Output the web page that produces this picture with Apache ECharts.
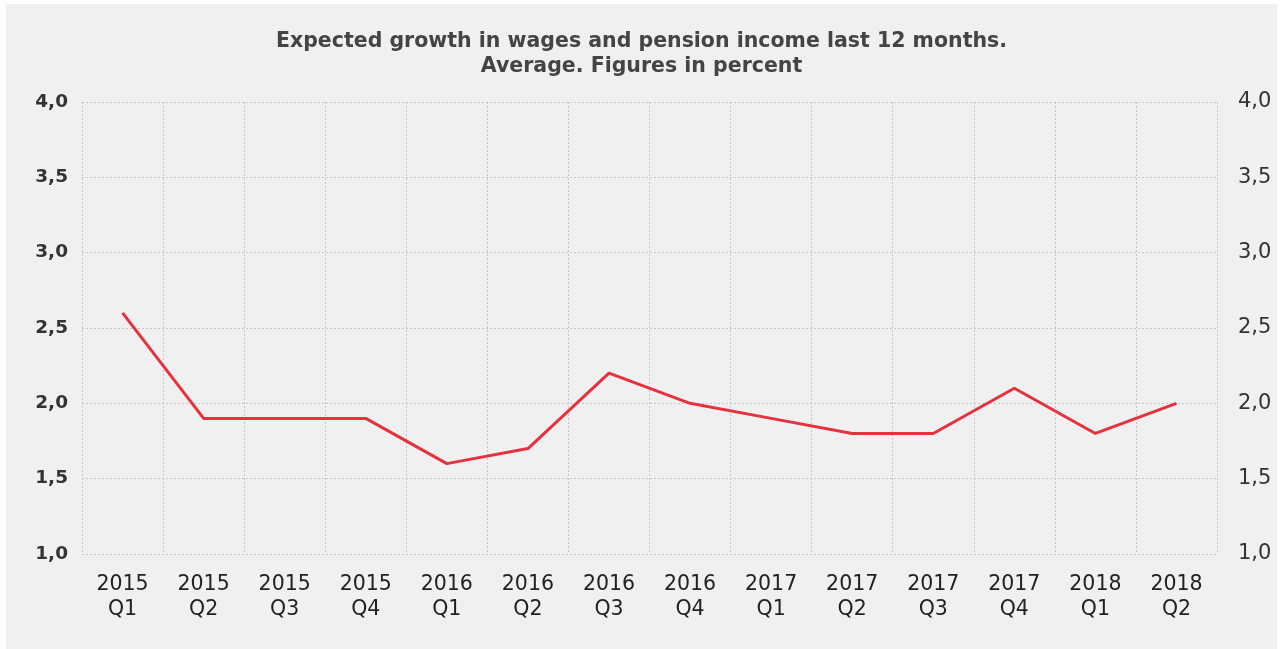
<!DOCTYPE html>
<html>
<head>
<meta charset="utf-8">
<script src="https://cdn.jsdelivr.net/npm/echarts@6/dist/echarts.min.js"></script>
<style>
    html, body { margin: 0; padding: 0; background: #fff; }
    #chart { position: absolute; left: 6px; top: 4px; width: 1271px; height: 645px; background: #f0f0f0; }
</style>
</head>
<body>
<div id="chart"></div>
<script>
// 数据
var quarters = ['2015\nQ1', '2015\nQ2', '2015\nQ3', '2015\nQ4', '2016\nQ1', '2016\nQ2', '2016\nQ3',
    '2016\nQ4', '2017\nQ1', '2017\nQ2', '2017\nQ3', '2017\nQ4', '2018\nQ1', '2018\nQ2'];
var growth = [2.6, 1.9, 1.9, 1.9, 1.6, 1.7, 2.2, 2.0, 1.9, 1.8, 1.8, 2.1, 1.8, 2.0];
var yMin = 1, yMax = 4, yStep = 0.5;

var chart = echarts.init(document.getElementById('chart'));

function fmt(v) {
    return v.toFixed(1).replace('.', ',');
}

var gridLine = {
    show: true,
    lineStyle: { color: '#c4c4c4', type: [2, 2], width: 1 }
};

var option = {
    backgroundColor: '#f0f0f0',
    animation: false,
    title: {
        text: 'Expected growth in wages and pension income last 12 months.\nAverage. Figures in percent',
        left: 'center',
        top: 20,
        textStyle: {
            fontFamily: 'DejaVu Sans',
            fontSize: 20.5,
            fontWeight: 'bold',
            color: '#444',
            lineHeight: 25
        }
    },
    grid: {
        left: 76,
        top: 98,
        width: 1135,
        height: 452
    },
    xAxis: {
        type: 'category',
        data: quarters,
        boundaryGap: true,
        axisLine: { show: false },
        axisTick: { show: false },
        axisLabel: {
            interval: 0,
            margin: 18,
            fontFamily: 'DejaVu Sans',
            fontSize: 20.5,
            color: '#222',
            lineHeight: 25
        },
        splitLine: gridLine
    },
    yAxis: [
        {
            type: 'value',
            min: yMin,
            max: yMax,
            interval: yStep,
            axisLine: { show: false },
            axisTick: { show: false },
            axisLabel: {
                margin: 14,
                fontFamily: 'DejaVu Sans',
                fontSize: 18.5,
                fontWeight: 'bold',
                color: '#333',
                formatter: fmt
            },
            splitLine: gridLine
        },
        {
            type: 'value',
            min: yMin,
            max: yMax,
            interval: yStep,
            position: 'right',
            axisLine: { show: false },
            axisTick: { show: false },
            axisLabel: {
                margin: 21,
                fontFamily: 'DejaVu Sans',
                fontSize: 21,
                color: '#333',
                formatter: fmt
            },
            splitLine: { show: false }
        }
    ],
    series: [
        {
            type: 'line',
            data: growth,
            yAxisIndex: 0,
            symbol: 'none',
            lineStyle: { color: '#e5323e', width: 3 },
            itemStyle: { color: '#e5323e' }
        }
    ]
};

chart.setOption(option);
</script>
</body>
</html>
